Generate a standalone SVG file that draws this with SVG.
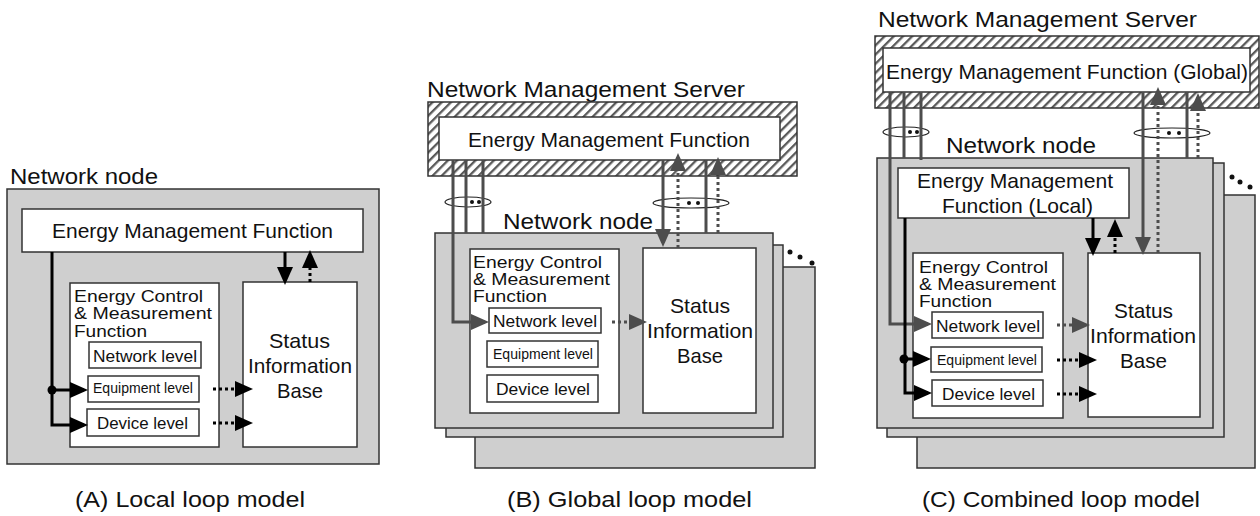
<svg xmlns="http://www.w3.org/2000/svg" width="1260" height="516" viewBox="0 0 1260 516">
<style>
text{font-family:"Liberation Sans",Arial,sans-serif;fill:#111}
.t22{font-size:22px}
.t21{font-size:21px}
.t18{font-size:16.5px}
.t17{font-size:17px}
.t14{font-size:14px}
.node{fill:#cfcfcf;stroke:#333;stroke-width:1.5}
.box{fill:#fff;stroke:#333;stroke-width:1.5}
.hatch{fill:url(#hatch);stroke:#333;stroke-width:1.5}
.k{stroke:#000;stroke-width:3;fill:none}
.g{stroke:#4d4d4d;stroke-width:3;fill:none}
.kd{stroke:#000;stroke-width:3;fill:none;stroke-dasharray:3 3}
.gd{stroke:#4d4d4d;stroke-width:3;fill:none;stroke-dasharray:3 3}
.ring{fill:none;stroke:#222;stroke-width:1.2}
.dot{fill:#111}
</style>
<defs>
<pattern id="hatch" patternUnits="userSpaceOnUse" width="6.5" height="6.5" patternTransform="rotate(45)">
<rect width="6.5" height="6.5" fill="#fff"/>
<rect width="2.3" height="6.5" fill="#5a5a5a"/>
</pattern>
<marker id="ak" markerUnits="userSpaceOnUse" viewBox="0 0 18 16" markerWidth="18" markerHeight="16" refX="14" refY="8" orient="auto"><path d="M0,0 L18,8 L0,16 z" fill="#000"/></marker>
<marker id="ag" markerUnits="userSpaceOnUse" viewBox="0 0 18 16" markerWidth="18" markerHeight="16" refX="14" refY="8" orient="auto"><path d="M0,0 L18,8 L0,16 z" fill="#4d4d4d"/></marker>
</defs>

<!-- ===== Panel A ===== -->
<g id="A-node">
<text class="t22" x="10" y="184" textLength="148" lengthAdjust="spacingAndGlyphs">Network node</text>
<rect class="node" x="7" y="189" width="372" height="275"/>
</g>
<g id="A-emf">
<rect class="box" x="22" y="209" width="341" height="43"/>
<text class="t21" x="52" y="238" textLength="281" lengthAdjust="spacingAndGlyphs">Energy Management Function</text>
</g>
<g id="A-ecmf">
<rect class="box" x="70" y="283" width="149" height="164"/>
<text class="t18" x="74" y="302" textLength="129" lengthAdjust="spacingAndGlyphs">Energy Control</text>
<text class="t18" x="74" y="319" textLength="138" lengthAdjust="spacingAndGlyphs">&amp; Measurement</text>
<text class="t18" x="74" y="337" textLength="73" lengthAdjust="spacingAndGlyphs">Function</text>
</g>
<g id="A-network-level">
<rect class="box" x="89" y="342" width="112" height="26"/>
<text class="t17" x="93" y="362" textLength="104" lengthAdjust="spacingAndGlyphs">Network level</text>
</g>
<g id="A-equipment-level">
<rect class="box" x="88" y="376" width="111" height="26"/>
<text class="t14" x="93" y="393" textLength="100" lengthAdjust="spacingAndGlyphs">Equipment level</text>
</g>
<g id="A-device-level">
<rect class="box" x="87" y="409" width="112" height="27"/>
<text class="t17" x="97" y="429" textLength="91" lengthAdjust="spacingAndGlyphs">Device level</text>
</g>
<g id="A-sib">
<rect class="box" x="243" y="282" width="114" height="165"/>
<text class="t21" x="269" y="348" textLength="61" lengthAdjust="spacingAndGlyphs">Status</text>
<text class="t21" x="248" y="373" textLength="104" lengthAdjust="spacingAndGlyphs">Information</text>
<text class="t21" x="277" y="398" textLength="46" lengthAdjust="spacingAndGlyphs">Base</text>
</g>
<text id="A-caption" class="t22" x="75" y="507" textLength="230" lengthAdjust="spacingAndGlyphs">(A) Local loop model</text>

<!-- ===== Panel B ===== -->
<g id="B-server">
<text class="t22" x="427" y="97" textLength="318" lengthAdjust="spacingAndGlyphs">Network Management Server</text>
<rect class="hatch" x="428" y="102" width="369" height="74"/>
</g>
<g id="B-emf">
<rect class="box" x="439" y="117" width="341" height="43"/>
<text class="t21" x="468" y="147" textLength="282" lengthAdjust="spacingAndGlyphs">Energy Management Function</text>
</g>
<g id="B-node">
<rect class="node" x="475" y="267" width="340" height="201"/>
<rect class="node" x="446" y="245" width="337" height="192"/>
<rect class="node" x="435" y="233" width="338" height="195"/>
<circle class="dot" cx="790" cy="252" r="2.5"/>
<circle class="dot" cx="800" cy="257" r="2.5"/>
<circle class="dot" cx="812" cy="263" r="2.5"/>
<text class="t22" x="503" y="229" textLength="150" lengthAdjust="spacingAndGlyphs">Network node</text>
</g>
<g id="B-ecmf">
<rect class="box" x="470" y="249" width="149" height="164"/>
<text class="t18" x="473" y="268" textLength="129" lengthAdjust="spacingAndGlyphs">Energy Control</text>
<text class="t18" x="473" y="285" textLength="137" lengthAdjust="spacingAndGlyphs">&amp; Measurement</text>
<text class="t18" x="473" y="302" textLength="74" lengthAdjust="spacingAndGlyphs">Function</text>
</g>
<g id="B-network-level">
<rect class="box" x="489" y="308" width="112" height="25"/>
<text class="t17" x="493" y="327" textLength="104" lengthAdjust="spacingAndGlyphs">Network level</text>
</g>
<g id="B-equipment-level">
<rect class="box" x="487" y="341" width="111" height="26"/>
<text class="t14" x="493" y="359" textLength="100" lengthAdjust="spacingAndGlyphs">Equipment level</text>
</g>
<g id="B-device-level">
<rect class="box" x="487" y="375" width="111" height="27"/>
<text class="t17" x="496" y="395" textLength="94" lengthAdjust="spacingAndGlyphs">Device level</text>
</g>
<g id="B-sib">
<rect class="box" x="643" y="248" width="113" height="165"/>
<text class="t21" x="670" y="313" textLength="60" lengthAdjust="spacingAndGlyphs">Status</text>
<text class="t21" x="647" y="338" textLength="106" lengthAdjust="spacingAndGlyphs">Information</text>
<text class="t21" x="677" y="363" textLength="46" lengthAdjust="spacingAndGlyphs">Base</text>
</g>
<text id="B-caption" class="t22" x="507" y="507" textLength="245" lengthAdjust="spacingAndGlyphs">(B) Global loop model</text>

<!-- ===== Panel C ===== -->
<g id="C-server">
<text class="t22" x="878" y="27" textLength="319" lengthAdjust="spacingAndGlyphs">Network Management Server</text>
<rect class="hatch" x="875" y="36" width="384" height="72"/>
</g>
<g id="C-emf-global">
<rect class="box" x="883" y="48" width="367" height="44"/>
<text class="t21" x="886" y="79" textLength="362" lengthAdjust="spacingAndGlyphs">Energy Management Function (Global)</text>
</g>
<g id="C-node">
<rect class="node" x="917" y="195" width="338" height="273"/>
<rect class="node" x="887" y="163" width="337" height="274"/>
<rect class="node" x="877" y="158" width="336" height="270"/>
<circle class="dot" cx="1232" cy="177" r="2.5"/>
<circle class="dot" cx="1240" cy="182" r="2.5"/>
<circle class="dot" cx="1250" cy="187" r="2.5"/>
<text class="t22" x="946" y="153" textLength="150" lengthAdjust="spacingAndGlyphs">Network node</text>
</g>
<g id="C-emf-local">
<rect class="box" x="898" y="168" width="231" height="50"/>
<text class="t21" x="917" y="188" textLength="196" lengthAdjust="spacingAndGlyphs">Energy Management</text>
<text class="t21" x="942" y="213" textLength="151" lengthAdjust="spacingAndGlyphs">Function (Local)</text>
</g>
<g id="C-ecmf">
<rect class="box" x="913" y="253" width="150" height="165"/>
<text class="t18" x="919" y="273" textLength="129" lengthAdjust="spacingAndGlyphs">Energy Control</text>
<text class="t18" x="919" y="290" textLength="137" lengthAdjust="spacingAndGlyphs">&amp; Measurement</text>
<text class="t18" x="919" y="307" textLength="73" lengthAdjust="spacingAndGlyphs">Function</text>
</g>
<g id="C-network-level">
<rect class="box" x="932" y="312" width="111" height="26"/>
<text class="t17" x="936" y="332" textLength="104" lengthAdjust="spacingAndGlyphs">Network level</text>
</g>
<g id="C-equipment-level">
<rect class="box" x="931" y="347" width="111" height="25"/>
<text class="t14" x="937" y="365" textLength="100" lengthAdjust="spacingAndGlyphs">Equipment level</text>
</g>
<g id="C-device-level">
<rect class="box" x="932" y="380" width="111" height="26"/>
<text class="t17" x="942" y="400" textLength="93" lengthAdjust="spacingAndGlyphs">Device level</text>
</g>
<g id="C-sib">
<rect class="box" x="1088" y="253" width="112" height="164"/>
<text class="t21" x="1114" y="318" textLength="59" lengthAdjust="spacingAndGlyphs">Status</text>
<text class="t21" x="1090" y="343" textLength="106" lengthAdjust="spacingAndGlyphs">Information</text>
<text class="t21" x="1120" y="368" textLength="47" lengthAdjust="spacingAndGlyphs">Base</text>
</g>
<text id="C-caption" class="t22" x="922" y="507" textLength="278" lengthAdjust="spacingAndGlyphs">(C) Combined loop model</text>

<!-- ===== Connectors ===== -->
<g id="connectors">
<!-- A -->
<path class="k" d="M52,252 V425 H84" marker-end="url(#ak)"/>
<path class="k" d="M52,390 H84" marker-end="url(#ak)"/>
<circle cx="52" cy="390" r="4.5" fill="#000"/>
<path class="k" d="M285,252 V281" marker-end="url(#ak)"/>
<path class="kd" d="M310,282 V254" marker-end="url(#ak)"/>
<path class="kd" d="M213,389 H249" marker-end="url(#ak)"/>
<path class="kd" d="M213,423 H249" marker-end="url(#ak)"/>
<!-- B -->
<ellipse class="ring" cx="468" cy="202" rx="23" ry="5"/>
<path class="g" d="M453,160 V322 H485" marker-end="url(#ag)"/>
<path class="g" d="M466,160 V233"/>
<path class="g" d="M483,160 V233"/>
<circle class="dot" cx="472" cy="202" r="2"/>
<circle class="dot" cx="479" cy="202" r="2"/>
<ellipse class="ring" cx="691" cy="203" rx="38" ry="5"/>
<path class="g" d="M663,160 V243" marker-end="url(#ag)"/>
<path class="gd" d="M678,248 V157" marker-end="url(#ag)"/>
<path class="g" d="M706,160 V233"/>
<path class="gd" d="M718,233 V161" marker-end="url(#ag)"/>
<circle class="dot" cx="689" cy="203" r="2"/>
<circle class="dot" cx="698" cy="203" r="2"/>
<path class="gd" d="M612,322 H643" marker-end="url(#ag)"/>
<!-- C -->
<ellipse class="ring" cx="906" cy="132" rx="23" ry="5"/>
<path class="g" d="M890,92 V324 H928" marker-end="url(#ag)"/>
<path class="g" d="M904,92 V158"/>
<path class="g" d="M921,92 V160"/>
<circle class="dot" cx="910" cy="132" r="2"/>
<circle class="dot" cx="917" cy="132" r="2"/>
<path class="k" d="M905,218 V393 H928" marker-end="url(#ak)"/>
<path class="k" d="M905,359 H927" marker-end="url(#ak)"/>
<circle cx="904" cy="359" r="4.5" fill="#000"/>
<path class="k" d="M1093,218 V252" marker-end="url(#ak)"/>
<path class="kd" d="M1115,253 V223" marker-end="url(#ak)"/>
<ellipse class="ring" cx="1172" cy="133" rx="38" ry="5"/>
<path class="g" d="M1143,92 V251" marker-end="url(#ag)"/>
<path class="gd" d="M1158,253 V91" marker-end="url(#ag)"/>
<path class="g" d="M1187,92 V158"/>
<path class="gd" d="M1198,158 V97" marker-end="url(#ag)"/>
<circle class="dot" cx="1169" cy="133" r="2"/>
<circle class="dot" cx="1179" cy="133" r="2"/>
<path class="gd" d="M1057,325 H1086" marker-end="url(#ag)"/>
<path class="kd" d="M1057,360 H1093" marker-end="url(#ak)"/>
<path class="kd" d="M1057,394 H1093" marker-end="url(#ak)"/>
</g>
</svg>
